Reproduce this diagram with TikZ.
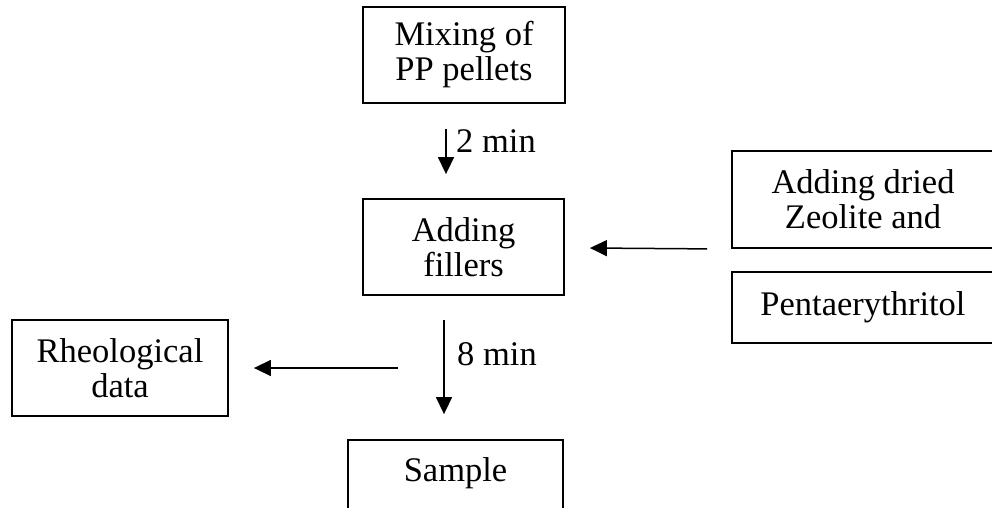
\documentclass[tikz,border=0pt]{standalone}
\usepackage{fontspec}
\setmainfont{Liberation Serif}
\usetikzlibrary{arrows.meta,calc}
\begin{document}
\begin{tikzpicture}[x=1pt,y=-1pt,
  stepbox/.style={draw,line width=1.8pt,align=center,inner sep=0pt,
    font=\fontsize{34.5}{35}\selectfont},
  lbl/.style={inner sep=0pt,anchor=base west,font=\fontsize{34.5}{35}\selectfont},
  arr/.style={line width=1.5pt,-{Triangle[length=17pt,width=16pt]}}]
\useasboundingbox (0,0) rectangle (992,508);
\clip (0,0) rectangle (992,508);

% process boxes
\node[stepbox,minimum width=202pt,minimum height=96pt] (mix) at (464,55) {Mixing of\\PP pellets};
\node[stepbox,minimum width=201pt,minimum height=96pt] (fill) at (463.5,247) {Adding\\fillers};
\node[stepbox,minimum width=262pt,minimum height=97pt] (zeo) at (863,199.5) {Adding dried\\Zeolite and};
\node[stepbox,minimum width=262pt,minimum height=71pt] (penta) at (863,307.5) {Pentaerythritol};
\node[stepbox,minimum width=216pt,minimum height=96pt] (rheo) at (120,368) {Rheological\\data};
\node[stepbox,minimum width=215pt,minimum height=96pt,text height=20pt,text depth=34pt] (sample) at (455.5,488) {Sample};

% connectors
\draw[arr] ([xshift=-18pt,yshift=-25pt]mix.south) -- ([xshift=-17.5pt,yshift=24pt]fill.north);
\draw[arr] ([xshift=-24pt]zeo.south west) -- ([xshift=25pt,yshift=-1pt]fill.east);
\coordinate (tap) at ([xshift=-19.5pt,yshift=-24pt]fill.south);
\draw[arr] (tap) -- ([xshift=-11.5pt,yshift=25pt]sample.north);
\draw[arr] ([xshift=169pt]rheo.east) -- ([xshift=25pt]rheo.east);

% timing labels
\node[lbl] (t2) at (456,152) {2 min};
\node[lbl] (t8) at (457,365) {8 min};
\end{tikzpicture}
\end{document}
